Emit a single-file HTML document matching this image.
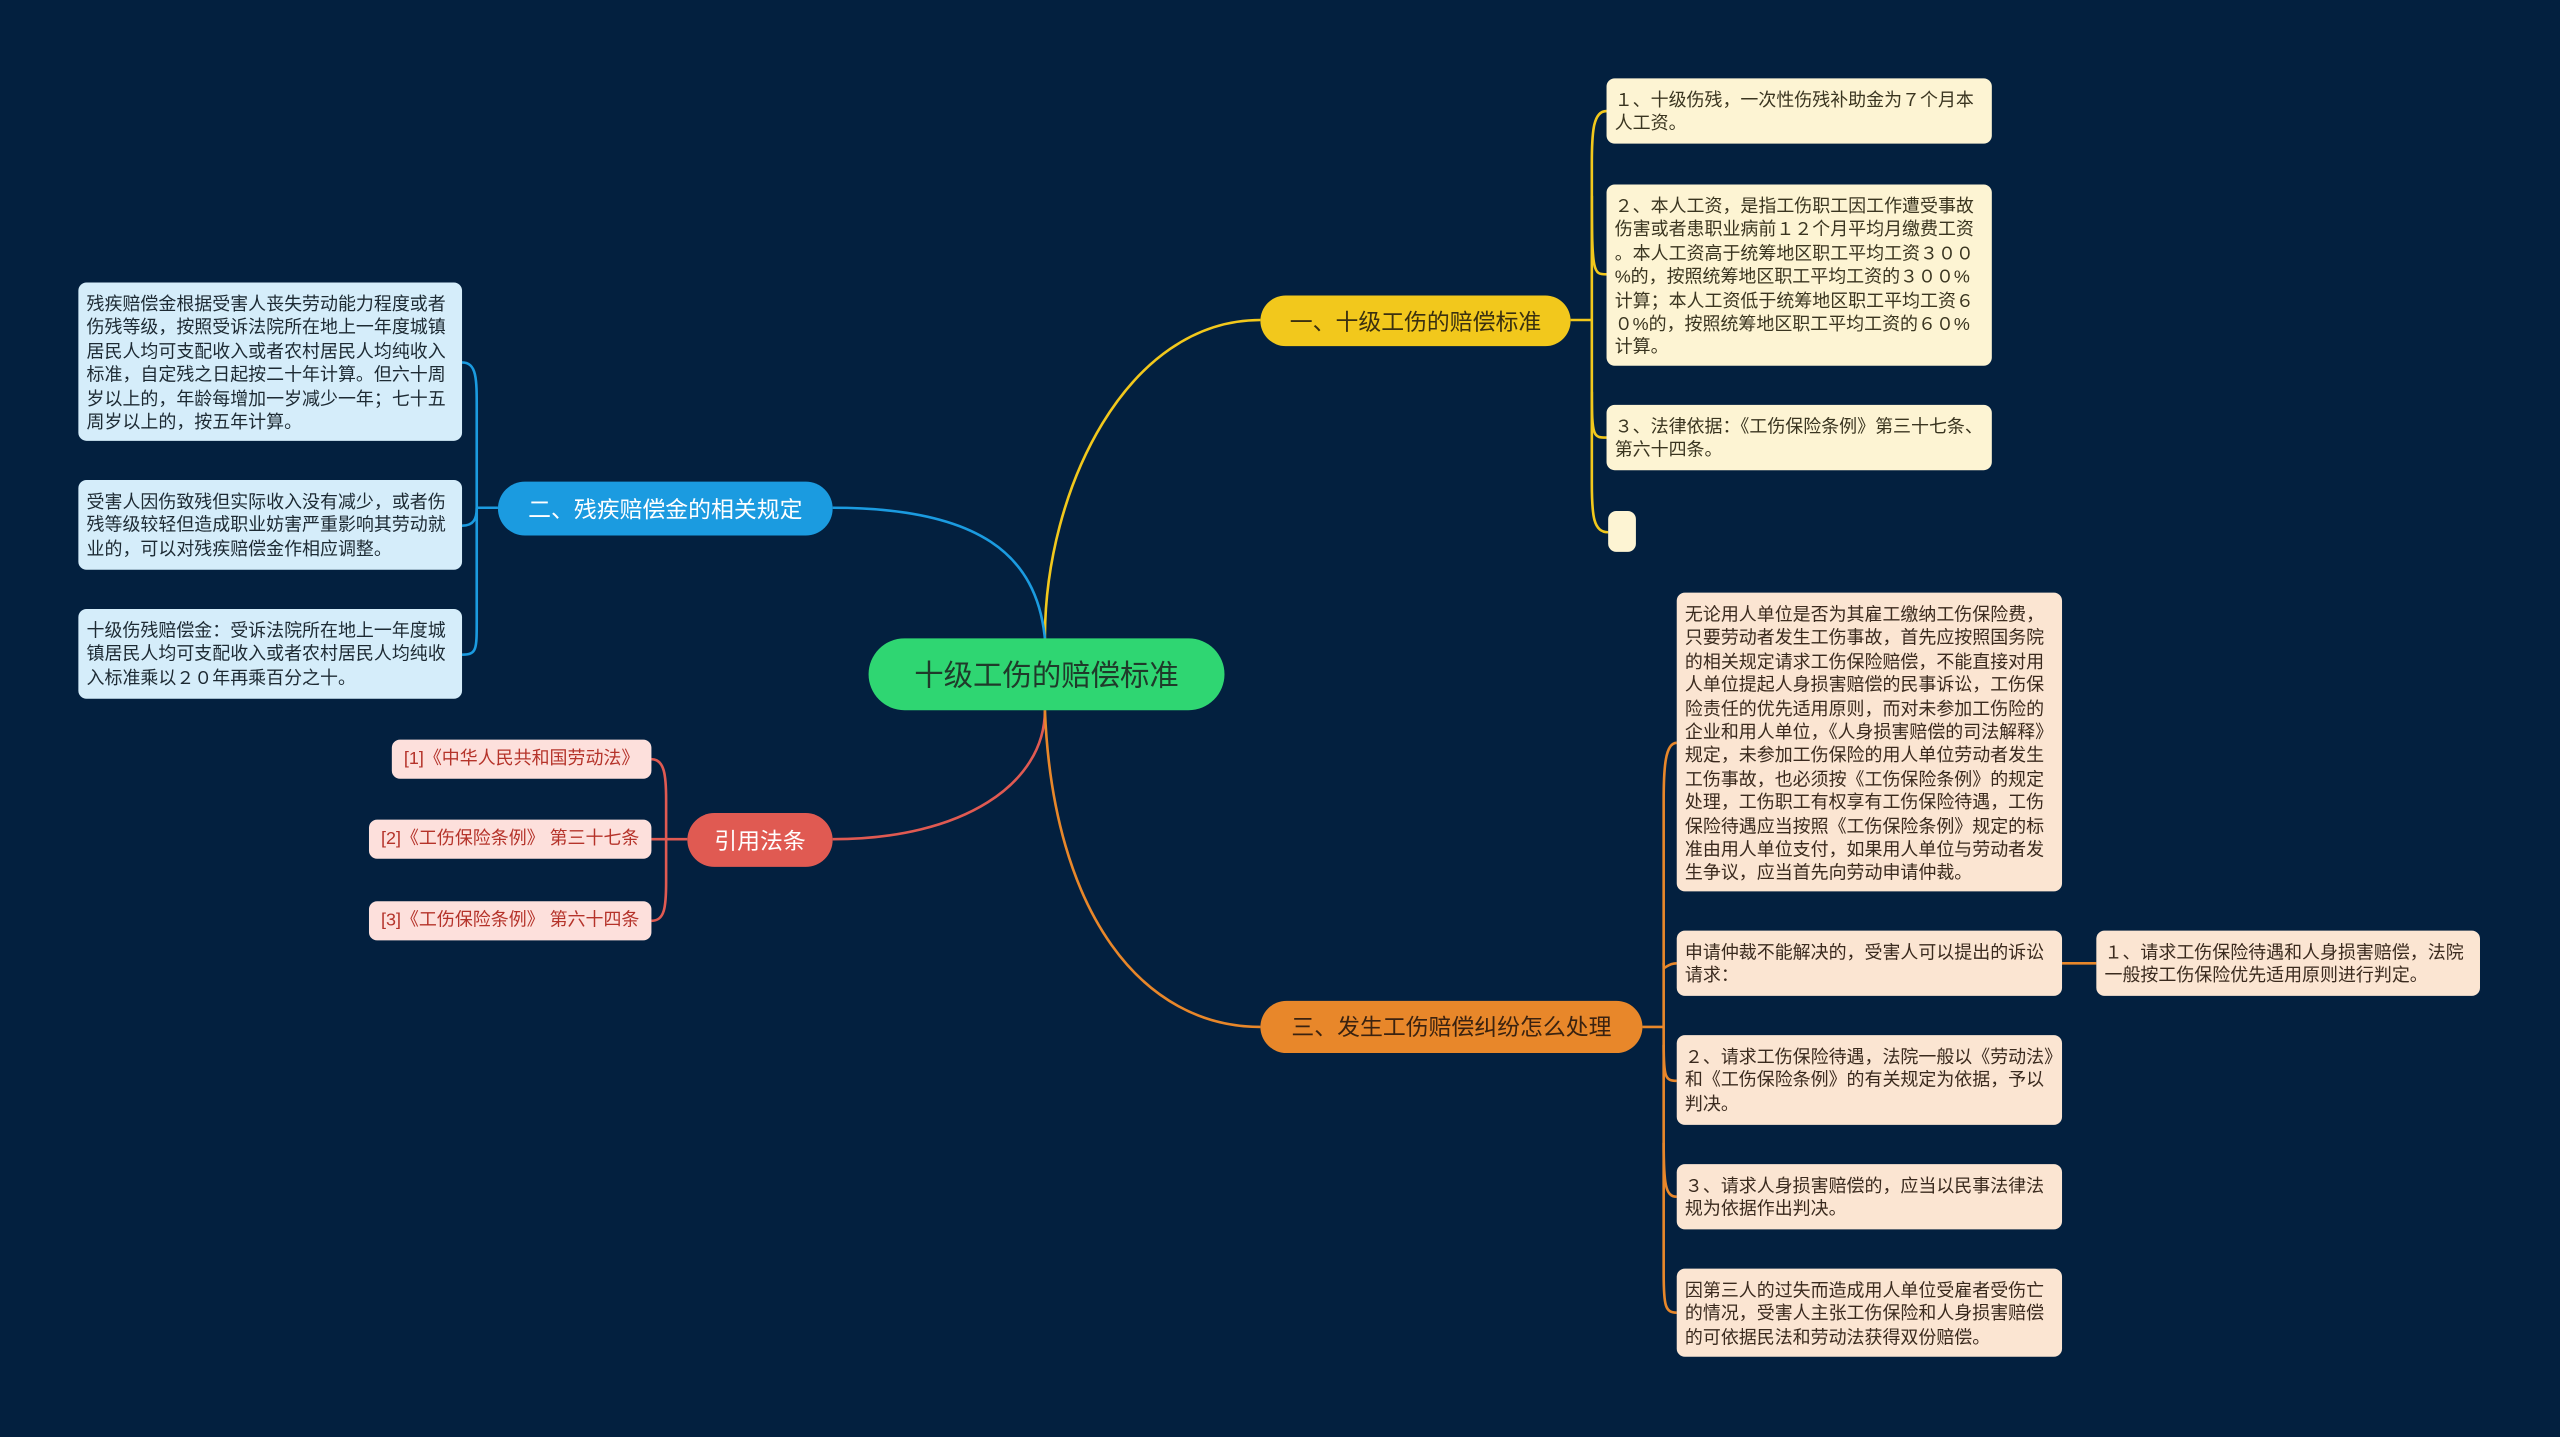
<!DOCTYPE html>
<html><head><meta charset="utf-8"><style>
html,body{margin:0;padding:0;width:2560px;height:1437px;overflow:hidden;background:#03203f;}
#c{position:absolute;left:0;top:0;width:1568px;height:880px;transform:scale(1.63265);transform-origin:0 0;font-family:"Liberation Sans","Noto Sans CJK SC",sans-serif;}
.n{position:absolute;box-sizing:border-box;border-radius:5px;font-size:11px;line-height:14.4px;padding:7px 4px 5px 5px;color:#333;word-break:break-all;line-break:anywhere;}
.y{background:#fdf4d3;color:#3a3520;}
.b{background:#d5edfa;color:#1d2a33;}
.p{background:#fde0dc;color:#b5332a;text-align:center;padding:5px 3px;white-space:nowrap;}
.o{background:#fbe5d2;color:#3a2a1e;}
.m{position:absolute;box-sizing:border-box;border-radius:17px;display:flex;align-items:center;justify-content:center;font-size:14px;white-space:nowrap;}
svg{position:absolute;left:0;top:0;}
</style></head><body><div id="c">
<svg width="1568" height="880" fill="none" stroke-width="1.6">
<path d="M640 391 C640 300 690 196 772 196" stroke="#f2c81c"/>
<path d="M640 391 C635 340 600 311 510 311" stroke="#1b9be0"/>
<path d="M640 435 C640 480 590 514 510 514" stroke="#e05a52"/>
<path d="M640 435 C645 560 700 629 772 629" stroke="#e8872a"/>
<g stroke="#f2c81c"><path d="M962 196 H975"/><path d="M984 68 C976 68 975 80 975 100 V296 C975 316 976 326 985 326"/><path d="M975 120 C975 168 976 168 984 168"/><path d="M975 240 C975 268 976 268 984 268"/></g>
<g stroke="#1b9be0"><path d="M305 311 H292"/><path d="M283 222 C292 222 292 232 292 250 V380 C292 398 292 401 283 401"/><path d="M283 322 C290 322 292 318 292 311"/></g>
<g stroke="#e05a52"><path d="M421 514 H408"/><path d="M399 465 C407 465 408 475 408 490 V540 C408 556 407 564 399 564"/><path d="M399 514 H408"/></g>
<g stroke="#e8872a"><path d="M1006 629 H1019"/><path d="M1027 455 C1020 455 1019 470 1019 490 V780 C1019 800 1020 804 1027 804"/><path d="M1019 590 C1019 596 1020 590 1027 590"/><path d="M1019 640 C1019 660 1020 662 1027 662"/><path d="M1019 700 C1019 725 1020 733 1027 733"/><path d="M1263 590 H1284"/></g>
</svg>
<div class="m" style="left:532px;top:391px;width:218px;height:44px;border-radius:22px;background:#2fd672;color:#1f3a2a;font-size:18px;">十级工伤的赔偿标准</div>
<div class="m" style="left:772px;top:181px;width:190px;height:31px;background:#f2c81c;color:#3a3010;">一、十级工伤的赔偿标准</div>
<div class="m" style="left:305px;top:295px;width:205px;height:33px;background:#1b9be0;color:#fff;">二、残疾赔偿金的相关规定</div>
<div class="m" style="left:421px;top:498px;width:89px;height:33px;background:#e05a52;color:#fff;">引用法条</div>
<div class="m" style="left:772px;top:613px;width:234px;height:32px;background:#e8872a;color:#3a2210;">三、发生工伤赔偿纠纷怎么处理</div>

<div class="n y" style="left:984px;top:48px;width:236px;height:40px;">１、十级伤残，一次性伤残补助金为７个月本人工资。</div>
<div class="n y" style="left:984px;top:113px;width:236px;height:111px;">２、本人工资，是指工伤职工因工作遭受事故伤害或者患职业病前１２个月平均月缴费工资。本人工资高于统筹地区职工平均工资３００%的，按照统筹地区职工平均工资的３００%计算；本人工资低于统筹地区职工平均工资６０%的，按照统筹地区职工平均工资的６０%计算。</div>
<div class="n y" style="left:984px;top:248px;width:236px;height:40px;">３、法律依据：《工伤保险条例》第三十七条、第六十四条。</div>
<div class="n y" style="left:985px;top:313px;width:17px;height:25px;"></div>

<div class="n b" style="left:48px;top:173px;width:235px;height:97px;">残疾赔偿金根据受害人丧失劳动能力程度或者伤残等级，按照受诉法院所在地上一年度城镇居民人均可支配收入或者农村居民人均纯收入标准，自定残之日起按二十年计算。但六十周岁以上的，年龄每增加一岁减少一年；七十五周岁以上的，按五年计算。</div>
<div class="n b" style="left:48px;top:294px;width:235px;height:55px;">受害人因伤致残但实际收入没有减少，或者伤残等级较轻但造成职业妨害严重影响其劳动就业的，可以对残疾赔偿金作相应调整。</div>
<div class="n b" style="left:48px;top:373px;width:235px;height:55px;">十级伤残赔偿金：受诉法院所在地上一年度城镇居民人均可支配收入或者农村居民人均纯收入标准乘以２０年再乘百分之十。</div>

<div class="n p" style="left:240px;top:453px;width:159px;height:24px;">[1]《中华人民共和国劳动法》</div>
<div class="n p" style="left:226px;top:502px;width:173px;height:24px;">[2]《工伤保险条例》 第三十七条</div>
<div class="n p" style="left:226px;top:552px;width:173px;height:24px;">[3]《工伤保险条例》 第六十四条</div>

<div class="n o" style="left:1027px;top:363px;width:236px;height:183px;">无论用人单位是否为其雇工缴纳工伤保险费，只要劳动者发生工伤事故，首先应按照国务院的相关规定请求工伤保险赔偿，不能直接对用人单位提起人身损害赔偿的民事诉讼，工伤保险责任的优先适用原则，而对未参加工伤险的企业和用人单位，《人身损害赔偿的司法解释》规定，未参加工伤保险的用人单位劳动者发生工伤事故，也必须按《工伤保险条例》的规定处理，工伤职工有权享有工伤保险待遇，工伤保险待遇应当按照《工伤保险条例》规定的标准由用人单位支付，如果用人单位与劳动者发生争议，应当首先向劳动申请仲裁。</div>
<div class="n o" style="left:1027px;top:570px;width:236px;height:40px;">申请仲裁不能解决的，受害人可以提出的诉讼请求：</div>
<div class="n o" style="left:1284px;top:570px;width:235px;height:40px;">１、请求工伤保险待遇和人身损害赔偿，法院一般按工伤保险优先适用原则进行判定。</div>
<div class="n o" style="left:1027px;top:634px;width:236px;height:55px;">２、请求工伤保险待遇，法院一般以《劳动法》和《工伤保险条例》的有关规定为依据，予以判决。</div>
<div class="n o" style="left:1027px;top:713px;width:236px;height:40px;">３、请求人身损害赔偿的，应当以民事法律法规为依据作出判决。</div>
<div class="n o" style="left:1027px;top:777px;width:236px;height:54px;">因第三人的过失而造成用人单位受雇者受伤亡的情况，受害人主张工伤保险和人身损害赔偿的可依据民法和劳动法获得双份赔偿。</div>
</div></body></html>
